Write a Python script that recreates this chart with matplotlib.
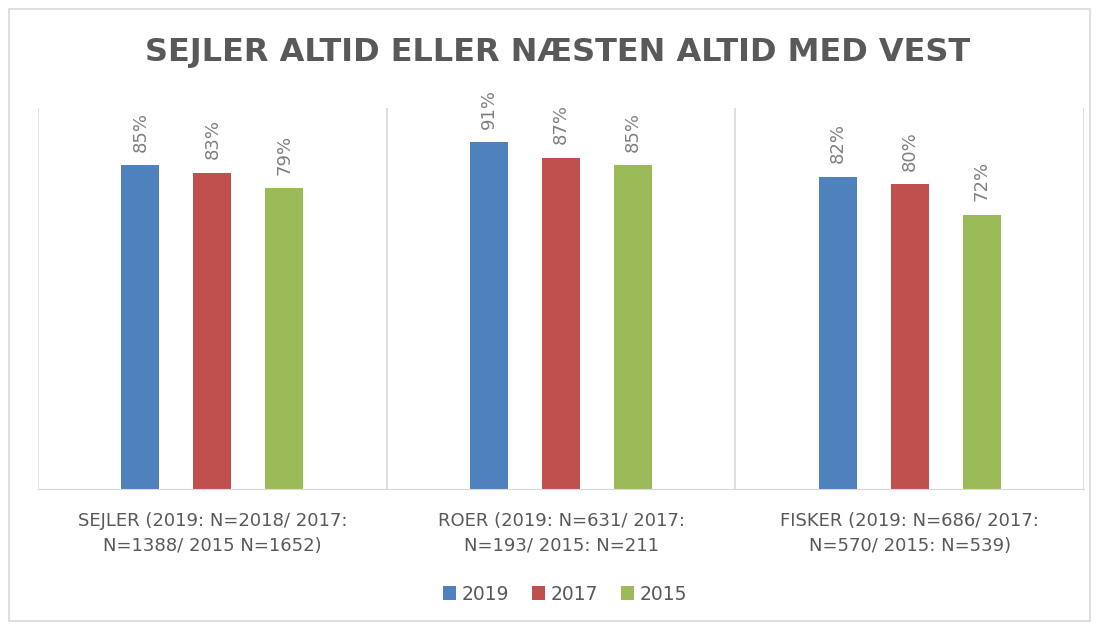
import matplotlib.pyplot as plt
from matplotlib.patches import Rectangle
import numpy as np

categories = ["SEJLER (2019: N=2018/ 2017:\nN=1388/ 2015 N=1652)",
              "ROER (2019: N=631/ 2017:\nN=193/ 2015: N=211",
              "FISKER (2019: N=686/ 2017:\nN=570/ 2015: N=539)"]
years = ["2019", "2017", "2015"]
v2019 = [85, 91, 82]
v2017 = [83, 87, 80]
v2015 = [79, 85, 72]
colors = ["#4f81bd", "#c0504d", "#9bbb59"]

fig = plt.figure(figsize=(11.04, 6.27), dpi=100)
ax = fig.add_axes([38 / 1104, 1 - 489 / 627, (1084 - 38) / 1104, (489 - 108) / 627])

# chart border
fig.patches.append(Rectangle((9 / 1104, 6 / 627), (1090 - 9) / 1104, (618 - 6) / 627,
                             transform=fig.transFigure, fill=False,
                             edgecolor="#d9d9d9", lw=1.2))

x = np.arange(len(categories))
w = 38 / 349
off = 72 / 349
for i, (vals, yr) in enumerate(zip([v2019, v2017, v2015], years)):
    pos = x + (i - 1) * off
    ax.bar(pos, vals, width=w, color=colors[i], label=yr)
    for p, v in zip(pos, vals):
        ax.text(p, v + 3.5, f"{v}%", rotation=90, ha="center", va="bottom",
                fontsize=13, color="#7f7f7f")

ax.set_xlim(-0.5, 2.5)
ax.set_ylim(0, 100)
ax.set_yticks([])
ax.set_xticks([])
for s in ["top", "left", "right"]:
    ax.spines[s].set_visible(False)
ax.spines["bottom"].set_color("#d9d9d9")
for b in [-0.5, 0.5, 1.5, 2.5]:
    ax.axvline(b, color="#d9d9d9", lw=1.2)

for xi, lab in zip(x, categories):
    ax.text(xi, -6, lab, ha="center", va="top", fontsize=13, color="#595959",
            linespacing=1.5, transform=ax.transData)

fig.text(0.505, 1 - 53 / 627, "SEJLER ALTID ELLER NÆSTEN ALTID MED VEST",
         ha="center", va="center", fontsize=23, fontweight="bold", color="#595959")

fig.legend(loc="center", bbox_to_anchor=(565 / 1104, 1 - 594 / 627), ncol=3,
           frameon=False, fontsize=13.5, handlelength=0.7, handleheight=0.7,
           handletextpad=0.3, columnspacing=1.2, labelcolor="#595959")

fig.savefig("out.png", dpi=100)
